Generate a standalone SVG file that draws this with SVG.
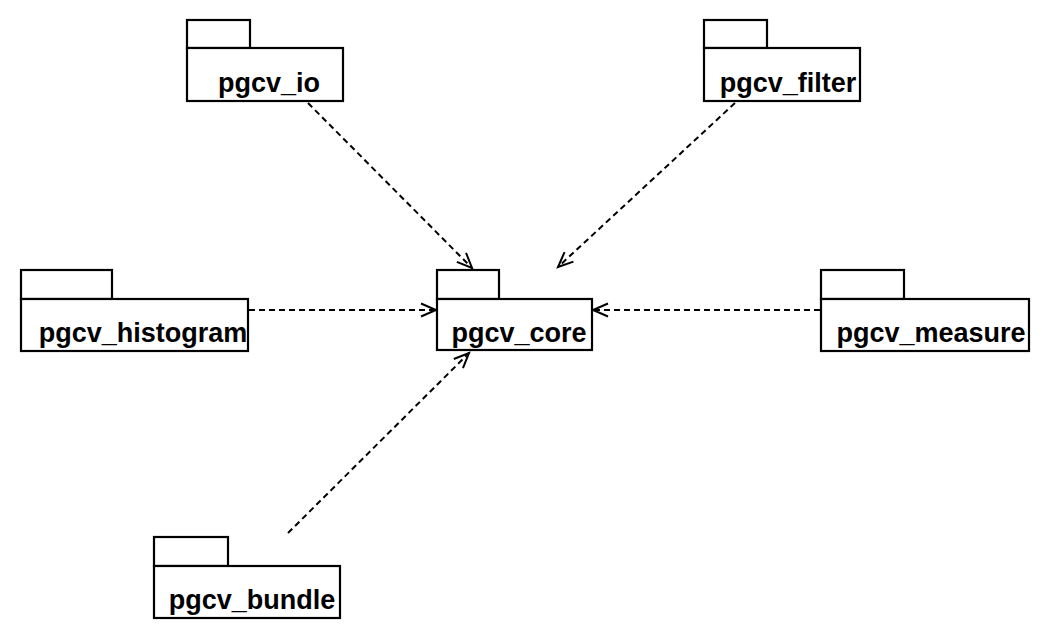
<svg xmlns="http://www.w3.org/2000/svg" width="1050" height="639" viewBox="0 0 1050 639">
<style>
.box{fill:#fff;stroke:#000;stroke-width:2.2}
.lbl{font-family:"Liberation Sans",Arial,sans-serif;font-weight:bold;font-size:27px;fill:#000;text-anchor:middle}
.dep{fill:none;stroke:#000;stroke-width:2;stroke-dasharray:6,4}
</style>
<defs>
<marker id="open" markerUnits="userSpaceOnUse" markerWidth="30" markerHeight="30" viewBox="-20 -15 30 30" refX="0" refY="0" orient="auto">
<path d="M-15,-6.5 L0,0 L-15,6.5" fill="none" stroke="#000" stroke-width="2"/>
</marker>
</defs>
<rect width="1050" height="639" fill="#fff"/>
<g id="connectors">
<line class="dep" x1="308" y1="103" x2="472" y2="268" marker-end="url(#open)"/>
<line class="dep" x1="735" y1="103" x2="558" y2="267" marker-end="url(#open)"/>
<line class="dep" x1="249" y1="310" x2="436" y2="310" marker-end="url(#open)"/>
<line class="dep" x1="820" y1="310" x2="593" y2="310" marker-end="url(#open)"/>
<line class="dep" x1="288" y1="533" x2="469" y2="353" marker-end="url(#open)"/>
</g>
<g id="pgcv_io">
<rect class="box" x="187" y="20" width="63" height="28"/>
<rect class="box" x="187" y="48" width="156" height="53"/>
<text class="lbl" x="269" y="92">pgcv_io</text>
</g>
<g id="pgcv_filter">
<rect class="box" x="704" y="20" width="63" height="28"/>
<rect class="box" x="704" y="48" width="156" height="53"/>
<text class="lbl" x="788" y="92">pgcv_filter</text>
</g>
<g id="pgcv_histogram">
<rect class="box" x="21" y="270" width="91" height="29"/>
<rect class="box" x="21" y="299" width="227" height="52"/>
<text class="lbl" x="143" y="342">pgcv_histogram</text>
</g>
<g id="pgcv_core">
<rect class="box" x="437" y="270" width="62" height="29"/>
<rect class="box" x="437" y="299" width="155" height="51"/>
<text class="lbl" x="519" y="342">pgcv_core</text>
</g>
<g id="pgcv_measure">
<rect class="box" x="821" y="270" width="83" height="29"/>
<rect class="box" x="821" y="299" width="208" height="52"/>
<text class="lbl" x="931" y="342">pgcv_measure</text>
</g>
<g id="pgcv_bundle">
<rect class="box" x="154" y="537" width="74" height="29"/>
<rect class="box" x="154" y="566" width="186" height="52"/>
<text class="lbl" x="252" y="609">pgcv_bundle</text>
</g>
</svg>
